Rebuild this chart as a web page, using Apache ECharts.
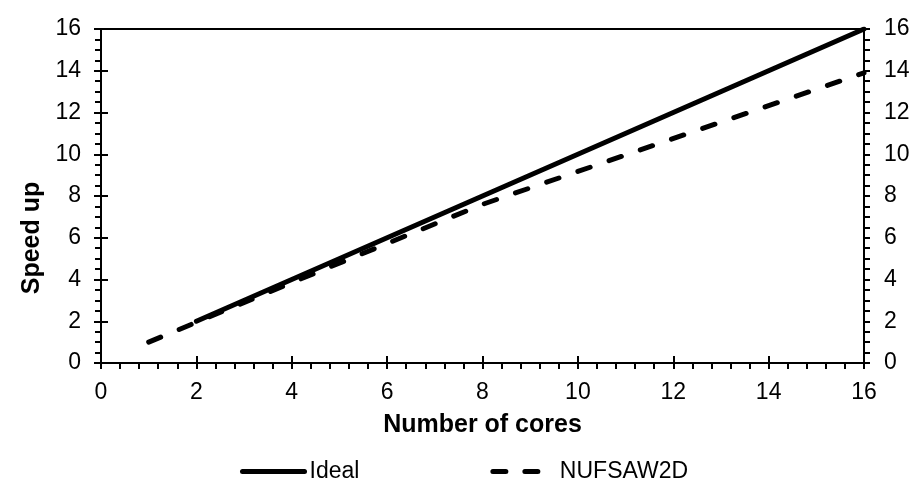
<!DOCTYPE html>
<html>
<head>
<meta charset="utf-8">
<script src="https://cdn.jsdelivr.net/npm/echarts@6/dist/echarts.min.js"></script>
<style>
  html, body { margin: 0; padding: 0; background: #fff; }
  #chart { width: 924px; height: 489px; }
</style>
</head>
<body>
<div id="chart"></div>
<script>
    // data
    var idealCores = [2, 4, 8, 16];
    var idealSpeedup = [2, 4, 8, 16];
    var nufCores = [1, 2, 4, 8, 16];
    var nufSpeedup = [1, 1.95, 3.85, 7.6, 13.9];
    var seriesNames = ['Ideal', 'NUFSAW2D'];

    var font = '"Liberation Sans", Arial, sans-serif';

    function pairs(xs, ys) {
        var out = [];
        for (var i = 0; i < xs.length; i++) out.push([xs[i], ys[i]]);
        return out;
    }

    // outer axis: line, labels, outside ticks
    function outerAxis(pos, extra) {
        var a = {
            type: 'value', position: pos, min: 0, max: 16, interval: 2,
            axisLine: { show: true, onZero: false, lineStyle: { color: '#000', width: 2 } },
            axisTick: { show: true, inside: false, length: 6, lineStyle: { color: '#000', width: 2 } },
            minorTick: { show: true, length: 6, lineStyle: { color: '#000', width: 2 } },
            splitLine: { show: false },
            axisLabel: { color: '#000', fontSize: 23, fontFamily: font }
        };
        for (var k in extra) a[k] = extra[k];
        return a;
    }
    // inner copy: just the inward half of the major ticks
    function innerAxis(pos) {
        return {
            type: 'value', position: pos, min: 0, max: 16, interval: 2, offset: 0,
            axisLine: { show: false },
            axisTick: { show: true, inside: true, length: 7, lineStyle: { color: '#000', width: 2 } },
            axisLabel: { show: false },
            splitLine: { show: false }
        };
    }

    var xMain = outerAxis('bottom', {
        name: 'Number of cores', nameLocation: 'middle', nameGap: 50,
        nameTextStyle: { color: '#000', fontSize: 25, fontWeight: 'bold', fontFamily: font, verticalAlign: 'top' }
    });
    xMain.minorTick.splitNumber = 5;
    xMain.axisLabel.margin = 18;

    var yLeft = outerAxis('left', {
        name: 'Speed up', nameLocation: 'middle', nameGap: 52,
        nameTextStyle: { color: '#000', fontSize: 25, fontWeight: 'bold', fontFamily: font, padding: [0, 84, 0, 0] }
    });
    yLeft.minorTick.splitNumber = 4;
    yLeft.axisLabel.margin = 20;

    var yRight = outerAxis('right', {});
    yRight.minorTick.splitNumber = 4;
    yRight.axisLabel.margin = 20;

    var option = {
        animation: false,
        backgroundColor: '#fff',
        grid: { left: 101, right: 60, top: 29, bottom: 126, show: true, borderColor: '#000', borderWidth: 2, backgroundColor: 'transparent' },
        xAxis: [xMain, innerAxis('bottom')],
        yAxis: [yLeft, innerAxis('left'), yRight, innerAxis('right')],
        legend: {
            left: 235, top: 455, itemWidth: 62, itemHeight: 14, itemGap: 131,
            data: [
                { name: seriesNames[0] },
                { name: seriesNames[1], lineStyle: { type: [13, 19], cap: 'round' } }
            ],
            itemStyle: { opacity: 0 },
            lineStyle: { width: 5 },
            textStyle: { color: '#000', fontSize: 23, fontFamily: font }
        },
        series: [
            {
                name: seriesNames[0], type: 'line', symbol: 'none',
                data: pairs(idealCores, idealSpeedup),
                lineStyle: { color: '#000', width: 5, cap: 'round' },
                itemStyle: { color: '#000' }
            },
            {
                name: seriesNames[1], type: 'line', symbol: 'none',
                data: pairs(nufCores, nufSpeedup),
                lineStyle: { color: '#000', width: 5, type: [13, 20], cap: 'round' },
                itemStyle: { color: '#000' }
            }
        ]
    };

    var chart = echarts.init(document.getElementById('chart'));
    chart.setOption(option);
</script>
</body>
</html>
